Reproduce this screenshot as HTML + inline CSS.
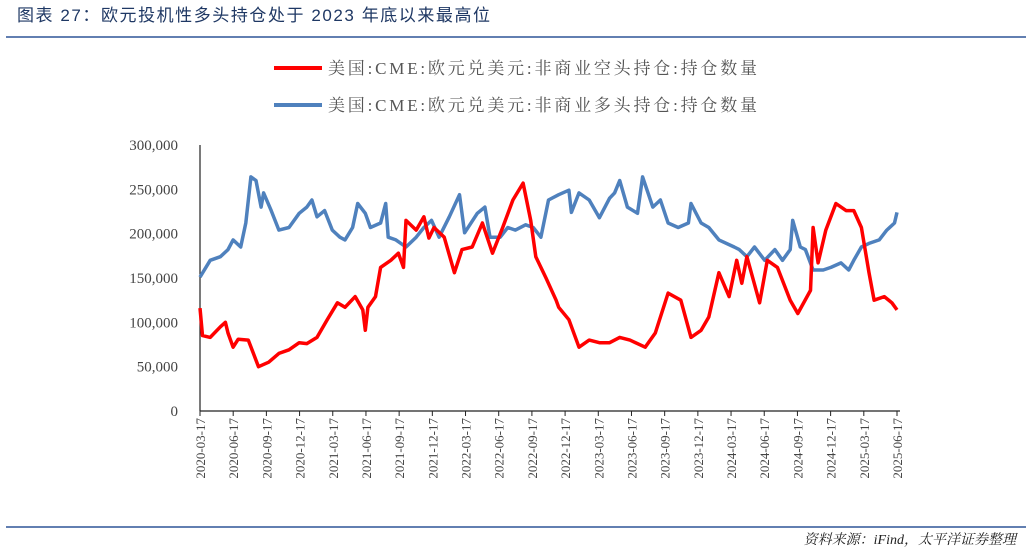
<!DOCTYPE html>
<html><head><meta charset="utf-8"><style>
body{margin:0;background:#fff;width:1032px;height:552px;overflow:hidden;font-family:"Liberation Serif","Noto Serif CJK SC",serif}
</style></head><body>
<svg width="1032" height="552" viewBox="0 0 1032 552" xmlns="http://www.w3.org/2000/svg">
<text x="17" y="21" font-size="17" fill="#1f3864" textLength="473" lengthAdjust="spacing" font-family="Liberation Sans,Noto Sans CJK SC,sans-serif">图表 27：欧元投机性多头持仓处于 2023 年底以来最高位</text>
<line x1="6" y1="37" x2="1026" y2="37" stroke="#2f5597" stroke-width="1.5"/>
<line x1="6" y1="527" x2="1026" y2="527" stroke="#2f5597" stroke-width="1.5"/>
<text x="1016" y="544" font-size="14" font-style="italic" text-anchor="end" fill="#222" font-family="Liberation Serif,Noto Serif CJK SC,serif">资料来源：iFind，太平洋证券整理</text>
<g>
<line x1="274" y1="68" x2="322" y2="68" stroke="#ff0000" stroke-width="4"/>
<text x="328" y="74" font-size="17" fill="#555" textLength="429" lengthAdjust="spacing" font-family="Liberation Serif,Noto Serif CJK SC,serif">美国:CME:欧元兑美元:非商业空头持仓:持仓数量</text>
<line x1="274" y1="105" x2="322" y2="105" stroke="#4f81bd" stroke-width="4"/>
<text x="328" y="111" font-size="17" fill="#555" textLength="429" lengthAdjust="spacing" font-family="Liberation Serif,Noto Serif CJK SC,serif">美国:CME:欧元兑美元:非商业多头持仓:持仓数量</text>
</g>
<g id="axes"></g>
<g id="marks"></g>
</svg>
<script>
const yTicks=[0,50000,100000,150000,200000,250000,300000];
const yTickLabels=["0","50,000","100,000","150,000","200,000","250,000","300,000"];
const xTickLabels=["2020-03-17","2020-06-17","2020-09-17","2020-12-17","2021-03-17","2021-06-17","2021-09-17","2021-12-17","2022-03-17","2022-06-17","2022-09-17","2022-12-17","2023-03-17","2023-06-17","2023-09-17","2023-12-17","2024-03-17","2024-06-17","2024-09-17","2024-12-17","2025-03-17","2025-06-17"];
const shortWeeks=[0,1,4,8,10,11,13,15,19,21,23,27,31,35,39,42,46,50,54,57,61,64,65,66,69,71,75,78,80,81,85,88,90,92,96,100,103,107,111,115,119,123,127,130,132,134,136,140,141,145,149,153,157,161,165,169,175,179,184,189,193,197,200,204,208,211,213,215,220,223,227,232,235,240,241,243,246,250,254,257,260,263,265,269,272,274];
const shortVals=[116,85,83,95,100,88,72,81,80,65,50,55,65,69,77,76,83,103,122,117,129,114,91,117,129,162,170,178,162,215,204,219,195,207,196,156,182,185,212,178,207,238,257,215,174,162,150,125,117,103,72,80,77,77,83,80,72,88,133,125,83,91,106,156,129,170,144,174,122,170,162,125,110,136,207,167,204,234,226,226,207,156,125,129,122,114];
const longWeeks=[0,4,8,11,13,16,18,20,22,24,25,28,31,35,39,42,44,46,49,52,55,57,60,62,65,67,71,73,74,77,81,85,88,91,94,98,102,104,109,112,114,118,121,124,128,131,134,137,141,145,146,149,153,157,161,163,165,168,172,174,178,181,184,188,192,193,197,200,204,210,212,215,218,222,226,229,232,233,236,238,241,245,248,252,255,257,260,263,267,270,273,274];
const longVals=[151,170,174,182,193,185,212,264,260,230,246,226,204,207,223,230,238,219,226,204,196,193,207,234,223,207,212,234,196,193,185,196,207,215,196,219,244,201,223,230,196,196,207,204,210,207,196,238,244,249,224,246,238,218,240,246,260,230,223,264,230,238,212,207,212,234,212,207,193,185,182,174,185,170,182,170,182,215,185,182,159,159,162,167,159,170,185,189,193,204,212,224];
const NS="http://www.w3.org/2000/svg";
const X0=200,X1=897,Y0=411,Y1=145,W=274;
const xs=w=>X0+(X1-X0)*w/W;
const ys=v=>Y0-(Y0-Y1)*v/300000;
const axes=document.getElementById('axes'),marks=document.getElementById('marks');
function mk(tag,attrs,parent){const e=document.createElementNS(NS,tag);for(const k in attrs)e.setAttribute(k,attrs[k]);parent.appendChild(e);return e;}
let yl=mk('line',{x1:X0,y1:Y1,x2:X0,y2:Y0,stroke:'#222','stroke-width':1.2},axes);


let xl=mk('line',{x1:X0,y1:Y0,x2:X1+3,y2:Y0,stroke:'#222','stroke-width':1.2},axes);


yTicks.forEach((v,i)=>{
 const t=mk('text',{x:178,y:ys(v)+5,'font-size':15,'text-anchor':'end',fill:'#444'},axes);
 t.textContent=yTickLabels[i];
 
 
});
xTickLabels.forEach((s,i)=>{
 const x=X0+(X1-X0)*i/(xTickLabels.length-1);
 const tk=mk('line',{x1:x,y1:Y0,x2:x,y2:Y0+5,stroke:'#222'},axes);
 
 
 const t=mk('text',{x:0,y:0,'font-size':13,'text-anchor':'end',fill:'#444',transform:`translate(${x+5},418) rotate(-90)`},axes);
 t.textContent=s;
 
 
});
function line(ws,vs,color,name){
 const d=ws.map((w,i)=>(i?'L':'M')+xs(w).toFixed(1)+','+ys(vs[i]*1000).toFixed(1)).join('');
 const p=mk('path',{d:d,fill:'none',stroke:color,'stroke-width':3.5,'stroke-linejoin':'round'},marks);
 
 
}
line(longWeeks,longVals,'#4f81bd','long-positions-line');
line(shortWeeks,shortVals,'#ff0000','short-positions-line');
</script>
</body></html>
